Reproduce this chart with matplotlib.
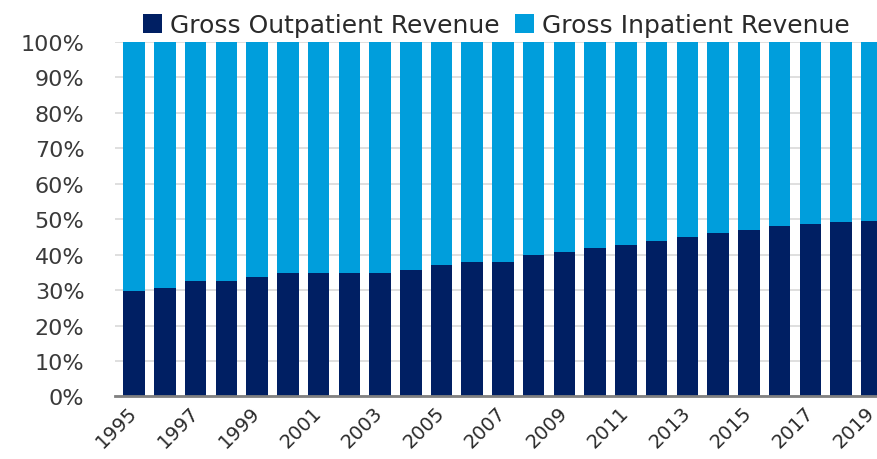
import matplotlib.pyplot as plt
import numpy as np

years = list(range(1995, 2020))
outpatient = [29.7, 30.6, 32.6, 32.6, 33.6, 34.7, 34.7, 34.7, 34.7, 35.6,
              37.0, 38.0, 38.0, 40.0, 40.6, 41.8, 42.7, 43.8, 45.0, 46.0,
              47.0, 48.0, 48.6, 49.2, 49.6]
inpatient = [70.3, 69.4, 67.4, 67.4, 66.4, 65.3, 65.3, 65.3, 65.3, 64.4,
             63.0, 62.0, 62.0, 60.0, 59.4, 58.2, 57.3, 56.2, 55.0, 54.0,
             53.0, 52.0, 51.4, 50.8, 50.4]
y_ticks = list(range(0, 101, 10))

navy = '#001F63'
light = '#009EDC'

plt.rcParams['font.family'] = ['DejaVu Sans']

fig = plt.figure(figsize=(8.78, 4.6), dpi=100)
ax = fig.add_axes([0.131, 0.136, 0.869, 0.771])

x = np.arange(len(years))
ax.bar(x, outpatient, width=0.7, color=navy, label='Gross Outpatient Revenue', zorder=3)
ax.bar(x, inpatient, width=0.7, bottom=outpatient, color=light,
       label='Gross Inpatient Revenue', zorder=3)

ax.set_xlim(-0.62, 24.2)
ax.set_ylim(0, 100)
ax.set_yticks(y_ticks)
ax.set_yticklabels([f'{v}%' for v in y_ticks], fontsize=16, color='#3a3a3a')
ax.set_xticks(x[::2])
ax.set_xticklabels([str(y) for y in years[::2]], fontsize=14, color='#2a2a2a',
                   rotation=45, ha='right', va='center', rotation_mode='anchor')
ax.tick_params(axis='y', length=0, pad=22)
ax.tick_params(axis='x', length=0, pad=9)

ax.grid(axis='y', color='#d9d9d9', linewidth=1.2, zorder=0)
for s in ['top', 'right', 'left']:
    ax.spines[s].set_visible(False)
ax.spines['bottom'].set_color('#808080')
ax.spines['bottom'].set_linewidth(2)
ax.spines['bottom'].set_zorder(4)

leg = ax.legend(loc='lower center', bbox_to_anchor=(0.5, 0.985), ncol=2, frameon=False,
                fontsize=18, handlelength=0.75, handleheight=0.75, handletextpad=0.35,
                columnspacing=0.6, borderaxespad=0.0)
for t in leg.get_texts():
    t.set_color('#2a2a2a')

fig.savefig('out.png', dpi=100)
